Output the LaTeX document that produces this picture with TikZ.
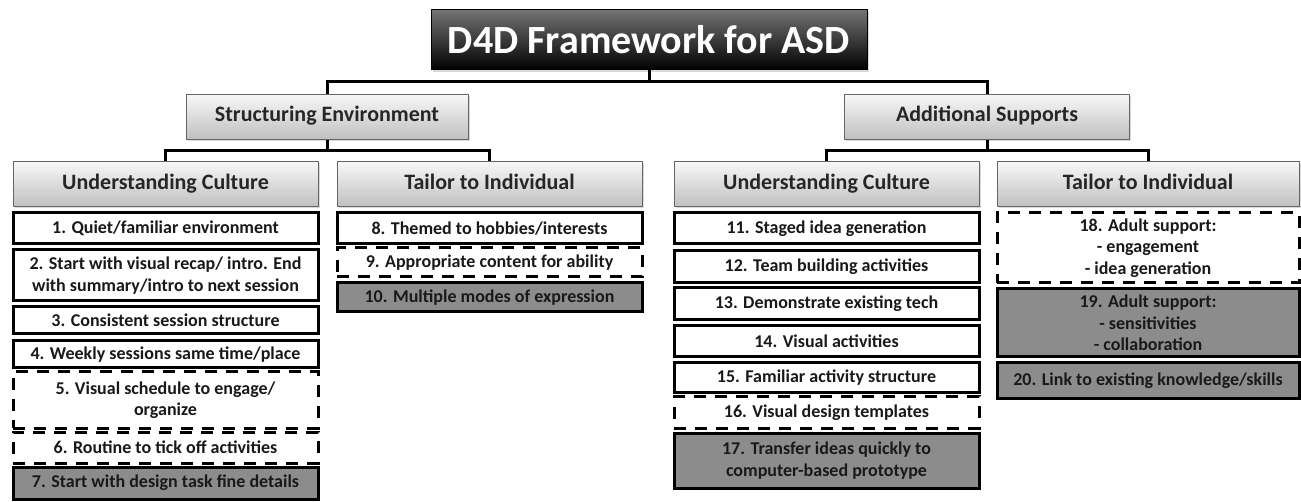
\documentclass[tikz,border=0pt]{standalone}
\usepackage{fontspec}
\setmainfont{Carlito}
\usetikzlibrary{shadows}
\tikzset{
  title/.style={rectangle,draw=black,line width=1pt,top color=black!55,bottom color=black,
    text=white,font=\bfseries\fontsize{40}{44}\selectfont,minimum width=436pt,minimum height=60pt,
    drop shadow={shadow xshift=2pt,shadow yshift=-2pt,opacity=0.3}},
  header/.style={rectangle,draw=black!60,line width=1pt,top color=black!3,bottom color=black!25,
    text=black!85,font=\bfseries\fontsize{22}{25}\selectfont,minimum height=45pt,inner sep=0pt,
    text height=15pt,text depth=5pt,
    drop shadow={shadow xshift=1.5pt,shadow yshift=-1.5pt,opacity=0.3}},
  item/.style={rectangle,draw=black,line width=3pt,fill=white,text=black!90,align=center,
    font=\bfseries\fontsize{18}{21.5}\selectfont,inner sep=0pt},
  itemdash/.style={item,dash pattern=on 12pt off 9pt},
  itemgray/.style={item,fill=black!45},
  link/.style={draw=black,line width=3pt}
}
\begin{document}
\begin{tikzpicture}[x=1pt,y=-1pt]
    \useasboundingbox(0,0)rectangle(1301,502);
    \node[title](top) at(649,40){D4D Framework for ASD};
    \node[header,minimum width=282pt](se) at(327,117){Structuring Environment};
    \node[header,minimum width=285pt](as) at(987,117){Additional Supports};
    \node[header,minimum width=305pt](uca) at(165.5,184.5){Understanding Culture};
    \node[header,minimum width=305pt](tia) at(489.5,184.5){Tailor to Individual};
    \node[header,minimum width=305pt](ucb) at(826.5,184.5){Understanding Culture};
    \node[header,minimum width=302pt](tib) at(1148,184.5){Tailor to Individual};
    \draw[link](top.south)--++(0,11)-|(se.north);
    \draw[link](top.south)--++(0,11)-|(as.north);
    \draw[link](se.south)--++(0,11)-|(uca.north);
    \draw[link](se.south)--++(0,11)-|(tia.north);
    \draw[link](as.south)--++(0,11)-|(ucb.north);
    \draw[link](as.south)--++(0,11)-|(tib.north);
    \node[item,minimum width=305pt,minimum height=31pt](i1) at(165.5,228.5){1. Quiet/familiar environment};
    \node[item,minimum width=305pt,minimum height=51pt](i2) at(165.5,275.5){2. Start with visual recap/ intro. End\\with summary/intro to next session};
    \node[item,minimum width=305pt,minimum height=27pt](i3) at(165.5,320.5){3. Consistent session structure};
    \node[item,minimum width=305pt,minimum height=27pt](i4) at(165.5,354.5){4. Weekly sessions same time/place};
    \node[itemdash,minimum width=305pt,minimum height=56pt](i5) at(165.5,400){5. Visual schedule to engage/\\organize};
    \node[itemdash,minimum width=305pt,minimum height=31pt](i6) at(165.5,447.5){6. Routine to tick off activities};
    \node[itemgray,minimum width=305pt,minimum height=32pt](i7) at(165.5,483){7. Start with design task fine details};
    \node[item,minimum width=305pt,minimum height=31pt](i8) at(489.5,228.5){8. Themed to hobbies/interests};
    \node[itemdash,minimum width=305pt,minimum height=29pt](i9) at(489.5,262.5){9. Appropriate content for ability};
    \node[itemgray,minimum width=305pt,minimum height=29pt](i10) at(489.5,297.5){10. Multiple modes of expression};
    \node[item,minimum width=305pt,minimum height=31pt](i11) at(826.5,228.5){11. Staged idea generation};
    \node[item,minimum width=305pt,minimum height=32pt](i12) at(826.5,267){12. Team building activities};
    \node[item,minimum width=305pt,minimum height=32pt](i13) at(826.5,304){13. Demonstrate existing tech};
    \node[item,minimum width=305pt,minimum height=31pt](i14) at(826.5,341.5){14. Visual activities};
    \node[item,minimum width=305pt,minimum height=30pt](i15) at(826.5,378){15. Familiar activity structure};
    \node[itemdash,minimum width=305pt,minimum height=31pt](i16) at(826.5,412.5){16. Visual design templates};
    \node[itemgray,minimum width=305pt,minimum height=55pt](i17) at(826.5,460.5){17. Transfer ideas quickly to\\computer-based prototype};
    \node[itemdash,minimum width=302pt,minimum height=70pt](i18) at(1148,248){18. Adult support:\\- engagement\\- idea generation};
    \node[itemgray,minimum width=302pt,minimum height=68pt](i19) at(1148,323){19. Adult support:\\- sensitivities\\- collaboration};
    \node[itemgray,minimum width=302pt,minimum height=36pt](i20) at(1148,381){20. Link to existing knowledge/skills};
\end{tikzpicture}
\end{document}
